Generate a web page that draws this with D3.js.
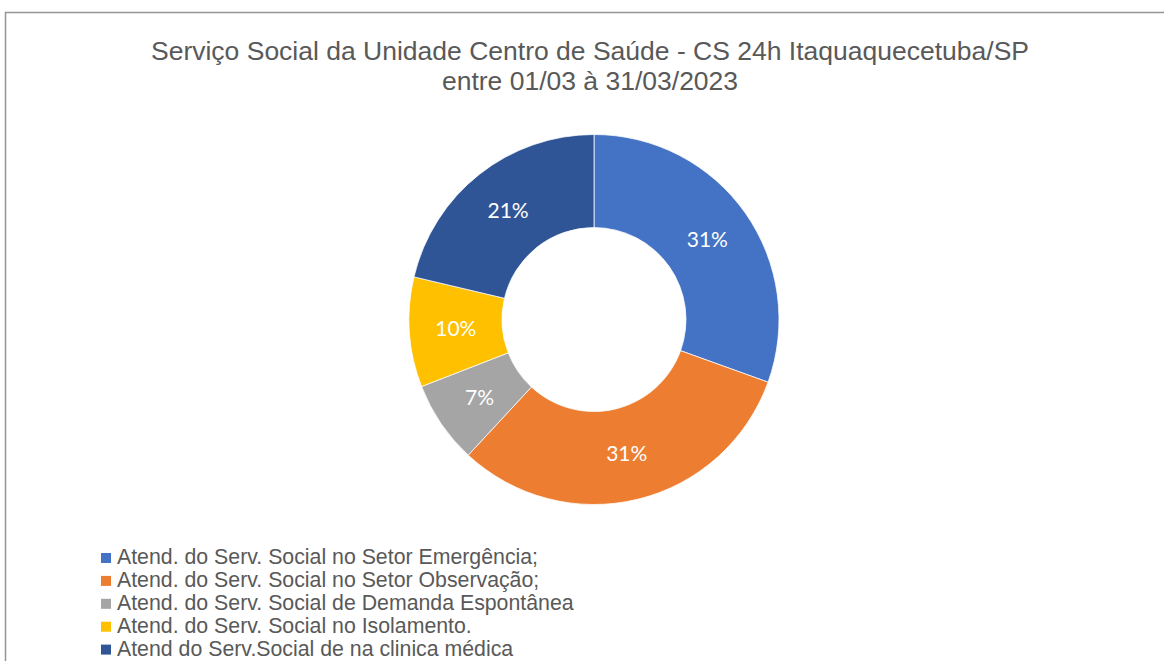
<!DOCTYPE html>
<meta charset="utf-8">
<style>
body { margin: 0; background: #fff; }
.titulo { font-family: "Liberation Sans", Arial, sans-serif; fill: #595959; }
.legenda text { font-family: "Liberation Sans", Arial, sans-serif; fill: #595959; }
.rotulos text { font-family: Lato, "Open Sans", sans-serif; fill: #fff; }
</style>

<svg width="1164" height="661"></svg>

<script src="https://d3js.org/d3.v7.min.js"></script>
<script>

// dados (percentuais)
var categorias = [
  "Atend. do Serv. Social no Setor Emergência;",
  "Atend. do Serv. Social no Setor Observação;",
  "Atend. do Serv. Social de Demanda Espontânea",
  "Atend. do Serv. Social no Isolamento.",
  "Atend do Serv.Social de na clinica médica"
];
var valores = [30.5, 31.4, 7.2, 9.6, 21.3];
var cores = ["#4472c4", "#ed7d31", "#a5a5a5", "#ffc000", "#2f5597"];
var tituloLinhas = [
  "Serviço Social da Unidade Centro de Saúde - CS 24h Itaquaquecetuba/SP",
  "entre 01/03 à 31/03/2023"
];

var svg = d3.select("svg"),
    width = +svg.attr("width"),
    height = +svg.attr("height");

// moldura do gráfico
svg.append("rect")
    .attr("x", 5.5).attr("y", 12.5)
    .attr("width", 1200).attr("height", 700)
    .attr("fill", "none")
    .attr("stroke", "#959595")
    .attr("stroke-width", 1.5);

svg.append("g")
    .attr("class", "titulo")
  .selectAll("text")
  .data(tituloLinhas)
  .enter()
  .append("text")
    .attr("x", 590)
    .attr("y", (d, i) => 60 + i * 30)
    .attr("text-anchor", "middle")
    .attr("font-size", 26.5)
    .text(d => d);

var total = d3.sum(valores);
var color = d3.scaleOrdinal().domain(categorias).range(cores);

var pie = d3.pie().sort(null).value(d => d.valor);
var dados = categorias.map((c, i) => ({cat: c, valor: valores[i]}));

var raio = 185, raioInt = 92;
var arc = d3.arc().innerRadius(raioInt).outerRadius(raio);
var arcRotulo = d3.arc().innerRadius((raio + raioInt) / 2).outerRadius((raio + raioInt) / 2);

var g = svg.append("g").attr("transform", "translate(594,319.5)");

g.selectAll("path")
  .data(pie(dados))
  .enter()
  .append("path")
    .attr("d", arc)
    .attr("fill", d => color(d.data.cat))
    .attr("stroke", "#fff")
    .attr("stroke-width", 0.75);

g.append("g")
    .attr("class", "rotulos")
  .selectAll("text")
  .data(pie(dados))
  .enter()
  .append("text")
    .attr("transform", d => "translate(" + arcRotulo.centroid(d) + ")")
    .attr("text-anchor", "middle")
    .attr("dy", "0.35em")
    .attr("font-size", 21)
    .text(d => Math.round(d.data.valor / total * 100) + "%");

// legenda
var leg = svg.append("g")
    .attr("class", "legenda")
  .selectAll("g")
  .data(categorias)
  .enter()
  .append("g")
    .attr("transform", (d, i) => "translate(101," + (553 + i * 22.9) + ")");

leg.append("rect")
    .attr("width", 10).attr("height", 10)
    .attr("fill", d => color(d));

leg.append("text")
    .attr("x", 16)
    .attr("y", 5)
    .attr("dy", "0.3em")
    .attr("font-size", 21.3)
    .text(d => d);

</script>
